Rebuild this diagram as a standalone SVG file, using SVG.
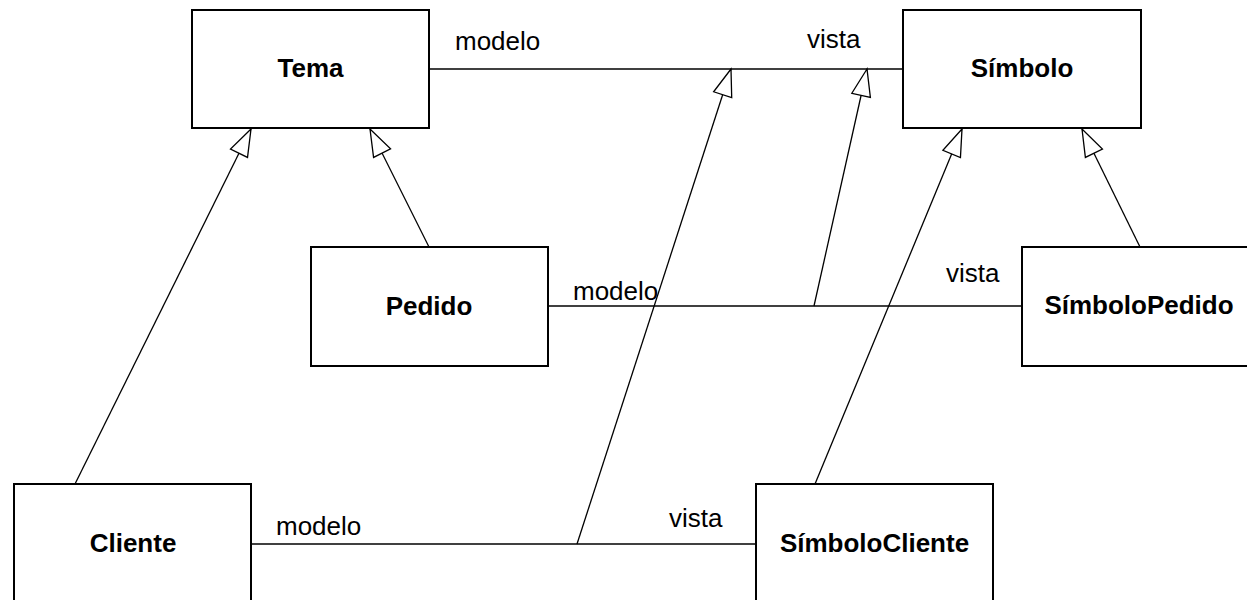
<svg xmlns="http://www.w3.org/2000/svg" width="1247" height="600" viewBox="0 0 1247 600">
<style>
.box{fill:#fff;stroke:#000;stroke-width:2}
.ln{fill:none;stroke:#000;stroke-width:1.3}
.inh{fill:none;stroke:#000;stroke-width:1.3;marker-end:url(#tri)}
.name{font-family:"Liberation Sans",Arial,sans-serif;font-weight:bold;font-size:26px;text-anchor:middle;fill:#000}
.role{font-family:"Liberation Sans",Arial,sans-serif;font-size:26px;fill:#000}
</style>
<defs>
<marker id="tri" viewBox="-29 -11 31 22" markerWidth="31" markerHeight="22" refX="0" refY="0" orient="auto" markerUnits="userSpaceOnUse">
<path d="M0,0 L-27,-9.5 L-27,9.5 Z" fill="#fff" stroke="#000" stroke-width="1.3" stroke-linejoin="miter"/>
</marker>
</defs>
<rect width="1247" height="600" fill="#fff"/>
<g id="connectors">
<line class="ln" x1="429" y1="69" x2="903" y2="69"/>
<line class="ln" x1="548" y1="306" x2="1022" y2="306"/>
<line class="ln" x1="251" y1="544" x2="756" y2="544"/>
<line class="inh" x1="577" y1="544" x2="731" y2="69"/>
<line class="inh" x1="814" y1="306" x2="867" y2="69"/>
<line class="inh" x1="75" y1="484" x2="251" y2="129"/>
<line class="inh" x1="429" y1="247" x2="370" y2="129"/>
<line class="inh" x1="815" y1="484" x2="962" y2="129"/>
<line class="inh" x1="1140" y1="247" x2="1082" y2="129"/>
<text class="role" x="455" y="50">modelo</text>
<text class="role" x="807" y="48">vista</text>
<text class="role" x="573" y="300">modelo</text>
<text class="role" x="946" y="282">vista</text>
<text class="role" x="276" y="535">modelo</text>
<text class="role" x="669" y="527">vista</text>
</g>
<g id="tema">
<rect class="box" x="192" y="10" width="237" height="118"/>
<text class="name" x="310.5" y="77">Tema</text>
</g>
<g id="simbolo">
<rect class="box" x="903" y="10" width="238" height="118"/>
<text class="name" x="1022" y="77">Símbolo</text>
</g>
<g id="pedido">
<rect class="box" x="311" y="247" width="237" height="119"/>
<text class="name" x="429" y="315">Pedido</text>
</g>
<g id="simbolopedido">
<rect class="box" x="1022" y="247" width="238" height="119"/>
<text class="name" x="1139" y="314">SímboloPedido</text>
</g>
<g id="cliente">
<rect class="box" x="14" y="484" width="237" height="120"/>
<text class="name" x="133" y="552">Cliente</text>
</g>
<g id="simbolocliente">
<rect class="box" x="756" y="484" width="237" height="120"/>
<text class="name" x="874.5" y="552">SímboloCliente</text>
</g>
</svg>
